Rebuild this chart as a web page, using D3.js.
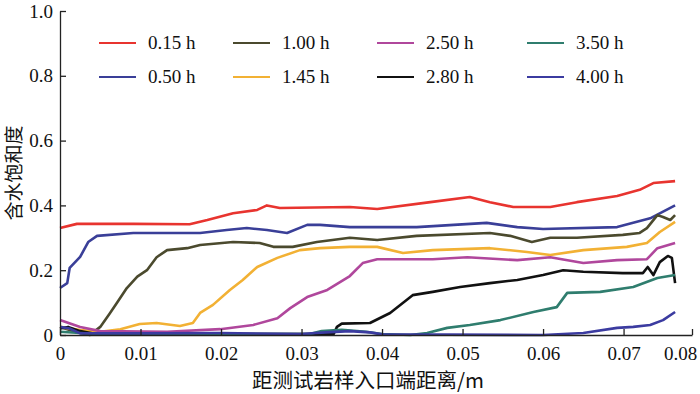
<!DOCTYPE html>
<html>
<head>
<meta charset="utf-8">
<script src="https://cdn.jsdelivr.net/npm/d3@7"></script>
<style>
  body { margin: 0; background: #fff; }
  #chart { width: 700px; height: 394px; }
  .axis text { font-family: "Liberation Serif", "DejaVu Serif", serif; font-size: 19px; fill: #111; }
  .axis path, .axis line { stroke: #222; stroke-width: 1.3; }
  .line { fill: none; stroke-width: 2.6; stroke-linejoin: round; }
</style>
</head>
<body>
<div id="chart"></div>
<script>
// series names / colours
var seriesNames = ["0.15 h", "0.50 h", "1.00 h", "1.45 h", "2.50 h", "2.80 h", "3.50 h", "4.00 h"];
var seriesColors = ["#e8342f", "#3a3f98", "#4b4a2e", "#f2b134", "#b0479c", "#111111", "#2f7d6e", "#3b3ba0"];

// [distance m, saturation]
var s015 = [[0,0.33],[0.0021,0.343],[0.0091,0.343],[0.0161,0.342],[0.0183,0.355],[0.0215,0.376],[0.0245,0.386],[0.0257,0.40],[0.0273,0.392],[0.036,0.395],[0.0394,0.389],[0.046,0.41],[0.0509,0.426],[0.0534,0.41],[0.0563,0.395],[0.0609,0.395],[0.0642,0.41],[0.0692,0.429],[0.072,0.448],[0.0737,0.469],[0.0764,0.475]];
var s050 = [[0,0.145],[0.0009,0.16],[0.0012,0.207],[0.0025,0.241],[0.0035,0.287],[0.0046,0.306],[0.0091,0.315],[0.0174,0.315],[0.0207,0.324],[0.0232,0.33],[0.0257,0.324],[0.0282,0.315],[0.0307,0.34],[0.0323,0.34],[0.036,0.333],[0.0443,0.333],[0.053,0.346],[0.0568,0.333],[0.06,0.327],[0.0692,0.333],[0.0733,0.36],[0.0764,0.40]];
var s100 = [[0,0.025],[0.0016,0.012],[0.0037,0.0],[0.005,0.025],[0.0062,0.067],[0.0071,0.10],[0.0083,0.145],[0.0096,0.18],[0.0108,0.20],[0.012,0.24],[0.0133,0.262],[0.0158,0.268],[0.0174,0.278],[0.0215,0.287],[0.0248,0.284],[0.0265,0.272],[0.0289,0.272],[0.0319,0.287],[0.036,0.30],[0.0394,0.293],[0.0443,0.306],[0.0534,0.315],[0.0559,0.306],[0.0586,0.287],[0.0609,0.30],[0.0642,0.30],[0.0699,0.309],[0.072,0.315],[0.0729,0.33],[0.0742,0.37],[0.0749,0.364],[0.0758,0.355],[0.0764,0.37]];
var s145 = [[0,0.025],[0.0025,0.015],[0.005,0.01],[0.0075,0.018],[0.0099,0.034],[0.012,0.037],[0.0149,0.028],[0.0165,0.037],[0.0174,0.068],[0.019,0.093],[0.0211,0.139],[0.0227,0.17],[0.0245,0.21],[0.027,0.238],[0.0298,0.262],[0.0323,0.268],[0.036,0.272],[0.0394,0.272],[0.0426,0.253],[0.0463,0.262],[0.0534,0.268],[0.058,0.256],[0.0609,0.247],[0.065,0.262],[0.0704,0.272],[0.0729,0.284],[0.0745,0.318],[0.0764,0.349]];
var s250 = [[0,0.046],[0.0025,0.025],[0.005,0.012],[0.0133,0.01],[0.0199,0.018],[0.024,0.031],[0.027,0.052],[0.0286,0.083],[0.0307,0.117],[0.0332,0.139],[0.036,0.182],[0.0376,0.222],[0.0394,0.234],[0.0463,0.234],[0.0506,0.24],[0.0568,0.231],[0.0609,0.24],[0.065,0.222],[0.0692,0.231],[0.0729,0.234],[0.0742,0.268],[0.0764,0.284]];
var s280 = [[0,0.02],[0.001,0.025],[0.0025,0.012],[0.004,0.005],[0.006,0.003],[0.034,0.003],[0.0344,0.025],[0.035,0.035],[0.0385,0.037],[0.041,0.068],[0.0438,0.123],[0.0463,0.133],[0.0497,0.148],[0.0534,0.16],[0.0568,0.17],[0.06,0.185],[0.0625,0.20],[0.065,0.195],[0.0699,0.191],[0.0724,0.191],[0.073,0.21],[0.0737,0.185],[0.0745,0.225],[0.0755,0.244],[0.076,0.238],[0.0764,0.16]];
var s350 = [[0,0.01],[0.004,0.004],[0.02,0.003],[0.031,0.003],[0.0325,0.012],[0.035,0.016],[0.038,0.01],[0.04,0.003],[0.0435,0],[0.0456,0.006],[0.0481,0.022],[0.0509,0.031],[0.0547,0.046],[0.0588,0.071],[0.0617,0.086],[0.063,0.13],[0.0671,0.133],[0.0712,0.148],[0.0742,0.176],[0.0764,0.185]];
var s400 = [[0,0.025],[0.0012,0.02],[0.0025,0.005],[0.01,0.005],[0.02,0.006],[0.03,0.003],[0.033,0.008],[0.036,0.012],[0.0385,0.008],[0.04,0.002],[0.06,0.0],[0.065,0.006],[0.0692,0.022],[0.0712,0.025],[0.0733,0.031],[0.0749,0.046],[0.0764,0.071]];

var xTicks = [0, 0.01, 0.02, 0.03, 0.04, 0.05, 0.06, 0.07, 0.0785];
var yTicks = [0, 0.2, 0.4, 0.6, 0.8, 1.0];

drawChart(700, 394);

function drawChart(w, h){
  var margin = {top: 11, right: 8, bottom: 59, left: 60},
      width = w - margin.left - margin.right,
      height = h - margin.top - margin.bottom;

  var x = d3.scaleLinear().domain([0, 0.0785]).range([0, width]);
  var y = d3.scaleLinear().domain([0, 1]).range([height, 0]);

  var valueline = d3.line()
      .x(function(d) { return x(d[0]); })
      .y(function(d) { return y(d[1]); });

  var svg = d3.select("#chart").append("svg")
      .attr("width", w)
      .attr("height", h)
    .append("g")
      .attr("transform", "translate(" + margin.left + "," + margin.top + ")");

  var allSeries = [s015, s050, s100, s145, s250, s280, s350, s400];

  // lines
  allSeries.forEach(function(s, i){
    svg.append("path")
        .data([s])
        .attr("class", "line")
        .attr("stroke", seriesColors[i])
        .attr("d", valueline);
  });

  // x axis
  var gx = svg.append("g")
      .attr("class", "axis")
      .attr("transform", "translate(0," + height + ")")
      .call(d3.axisBottom(x).tickValues(xTicks).tickSizeInner(-6).tickSizeOuter(0).tickPadding(12)
        .tickFormat(function(d){ return d === 0 ? "0" : d > 0.075 ? "0.08" : d3.format(".2f")(d); }));
  gx.attr("font-family", "Liberation Serif");
  gx.selectAll(".tick text").filter(function(d){ return d > 0.075; }).attr("dx", -12);

  // y axis
  svg.append("g")
      .attr("class", "axis")
      .call(d3.axisLeft(y).tickValues(yTicks).tickSizeInner(-6).tickSizeOuter(0).tickPadding(7)
        .tickFormat(function(d){ return d === 0 ? "0" : d3.format(".1f")(d); }))
      .attr("font-family", "Liberation Serif");

  // axis titles
  svg.append("text")
      .attr("x", 368 - margin.left)
      .attr("y", 388 - margin.top)
      .attr("text-anchor", "middle")
      .style("font-family", "'Noto Sans CJK SC', sans-serif")
      .style("font-size", "20.5px")
      .style("fill", "#111")
      .text("距测试岩样入口端距离/m");

  svg.append("text")
      .attr("transform", "translate(" + (21 - margin.left) + "," + (173 - margin.top) + ") rotate(-90)")
      .attr("text-anchor", "middle")
      .style("font-family", "'Noto Sans CJK SC', sans-serif")
      .style("font-size", "19px")
      .style("fill", "#111")
      .text("含水饱和度");

  // legend
  var legX = [99, 233, 377, 527], legY = [43, 77];
  var leg = svg.append("g").attr("transform", "translate(" + (-margin.left) + "," + (-margin.top) + ")");
  seriesNames.forEach(function(name, i){
    var cx = legX[Math.floor(i / 2)], cy = legY[i % 2];
    leg.append("line")
        .attr("x1", cx).attr("x2", cx + 37)
        .attr("y1", cy).attr("y2", cy)
        .attr("stroke", seriesColors[i])
        .attr("stroke-width", 2.2);
    leg.append("text")
        .attr("x", cx + 49)
        .attr("y", cy + 6)
        .style("font-family", "'Liberation Serif', serif")
        .style("font-size", "19px")
        .style("fill", "#111")
        .text(name);
  });
}
</script>
</body>
</html>
